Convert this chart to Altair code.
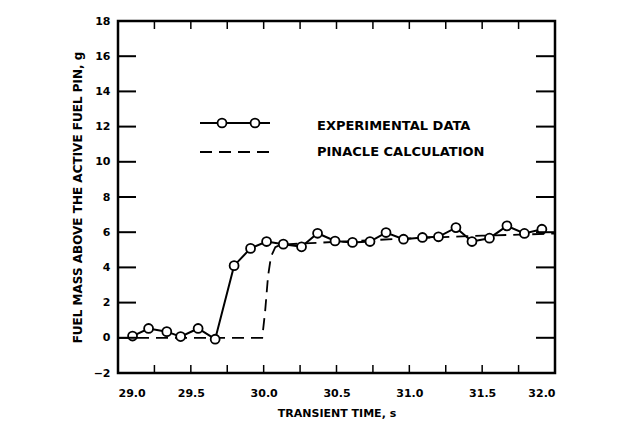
import altair as alt
import pandas as pd

# Experimental data (time s, fuel mass g)
exp_t = [29.10, 29.21, 29.335, 29.43, 29.55, 29.667, 29.797, 29.91, 30.02, 30.135,
         30.26, 30.37, 30.49, 30.61, 30.73, 30.84, 30.96, 31.09, 31.20, 31.32,
         31.43, 31.55, 31.67, 31.79, 31.91]
exp_v = [0.10, 0.53, 0.35, 0.07, 0.53, -0.08, 4.10, 5.08, 5.47, 5.32,
         5.17, 5.94, 5.50, 5.42, 5.47, 5.98, 5.60, 5.70, 5.74, 6.26,
         5.47, 5.66, 6.36, 5.93, 6.17]

# PINACLE calculation
calc_t = [29.0, 29.99, 30.01, 30.03, 30.05, 30.08, 30.12, 30.5, 31.0, 31.5, 32.0]
calc_v = [0.0, 0.0, 1.5, 3.5, 4.6, 5.15, 5.3, 5.45, 5.65, 5.8, 5.92]

x_labels = [29.0, 29.5, 30.0, 30.5, 31.0, 31.5, 32.0]
y_labels = [-2, 0, 2, 4, 6, 8, 10, 12, 14, 16, 18]
x_minor = [29.25, 29.5, 29.75, 30.0, 30.25, 30.5, 30.75, 31.0, 31.25, 31.5, 31.75]
y_minor = [0, 2, 4, 6, 8, 10, 12, 14, 16]

legend_names = ["EXPERIMENTAL DATA", "PINACLE CALCULATION"]

FONT = "DejaVu Sans"
W, H = 437, 352

exp_df = pd.DataFrame({"t": exp_t, "v": exp_v})
calc_df = pd.DataFrame({"t": calc_t, "v": calc_v})
xt_df = pd.DataFrame({"t": x_minor})
yt_df = pd.DataFrame({"v": y_minor})

xs = alt.Scale(domain=[29.0, 32.0], nice=False, zero=False)
ys = alt.Scale(domain=[-2, 18], nice=False, zero=False)

xax = alt.Axis(values=x_labels, format=".1f", tickSize=0, domain=False, grid=False,
               labelPadding=14, labelFont=FONT, labelFontSize=11, labelFontWeight="bold",
               labelOverlap=False, labelColor="black", title="TRANSIENT TIME, s",
               titleFont=FONT, titleFontSize=11, titleFontWeight="bold",
               titleColor="black", titlePadding=9)
yax = alt.Axis(values=y_labels, tickSize=0, domain=False, grid=False,
               labelPadding=8, labelFont=FONT, labelFontSize=11, labelFontWeight="bold",
               labelOverlap=False, labelColor="black",
               title="FUEL MASS ABOVE THE ACTIVE FUEL PIN, g",
               titleFont=FONT, titleFontSize=12, titleFontWeight="bold",
               titleColor="black", titlePadding=9)

base_x = alt.X("t:Q", scale=xs, axis=xax)
base_y = alt.Y("v:Q", scale=ys, axis=yax)
xa = alt.X("t:Q", scale=xs, axis=xax)
ya = alt.Y("v:Q", scale=ys, axis=yax)

calc_line = alt.Chart(calc_df).mark_line(color="black", strokeWidth=1.8,
                                         strokeDash=[12, 7]).encode(x=base_x, y=base_y)
exp_line = alt.Chart(exp_df).mark_line(color="black", strokeWidth=2).encode(x=xa, y=ya)
exp_pts = alt.Chart(exp_df).mark_point(shape="circle", size=80, filled=True, fill="white",
                                       stroke="black", strokeWidth=1.8, opacity=1).encode(
    x=xa, y=ya)

# inward ticks
bot_ticks = alt.Chart(xt_df).mark_rule(color="black", strokeWidth=1.5).encode(
    x=xa, y=alt.value(H), y2=alt.value(H - 8))
top_ticks = alt.Chart(xt_df).mark_rule(color="black", strokeWidth=1.5).encode(
    x=xa, y=alt.value(0), y2=alt.value(8))
left_ticks = alt.Chart(yt_df).mark_rule(color="black", strokeWidth=2).encode(
    y=ya, x=alt.value(0), x2=alt.value(18))
right_ticks = alt.Chart(yt_df).mark_rule(color="black", strokeWidth=2).encode(
    y=ya, x=alt.value(W), x2=alt.value(W - 19))

# legend
one = pd.DataFrame({"a": [0]})
leg_line1 = alt.Chart(one).mark_rule(color="black", strokeWidth=2).encode(
    x=alt.value(82), x2=alt.value(152), y=alt.value(102))
leg_pts = alt.Chart(pd.DataFrame({"px": [104, 137]})).mark_point(
    shape="circle", size=80, filled=True, fill="white", stroke="black",
    strokeWidth=1.8, opacity=1).encode(
    x=alt.X("px:Q", scale=None), y=alt.value(102))
leg_line2 = alt.Chart(one).mark_rule(color="black", strokeWidth=1.8,
                                     strokeDash=[12, 7]).encode(
    x=alt.value(82), x2=alt.value(152), y=alt.value(131))
leg_txt = alt.Chart(pd.DataFrame({"name": legend_names, "py": [105, 131]})).mark_text(
    align="left", baseline="middle", font=FONT, fontSize=13, fontWeight="bold",
    color="black").encode(x=alt.value(199), y=alt.Y("py:Q", scale=None), text="name:N")

chart = alt.layer(
    calc_line, exp_line, exp_pts, bot_ticks, top_ticks, left_ticks, right_ticks,
    leg_line1, leg_pts, leg_line2, leg_txt
).properties(
    width=W, height=H, autosize="none",
    padding={"left": 110, "top": 13, "right": 68, "bottom": 49},
    background="white"
).configure_view(stroke="black", strokeWidth=2.5
).configure_axis(labelOverlap=False)

chart.save("out.html", embed_options={"renderer": "svg", "actions": False})
